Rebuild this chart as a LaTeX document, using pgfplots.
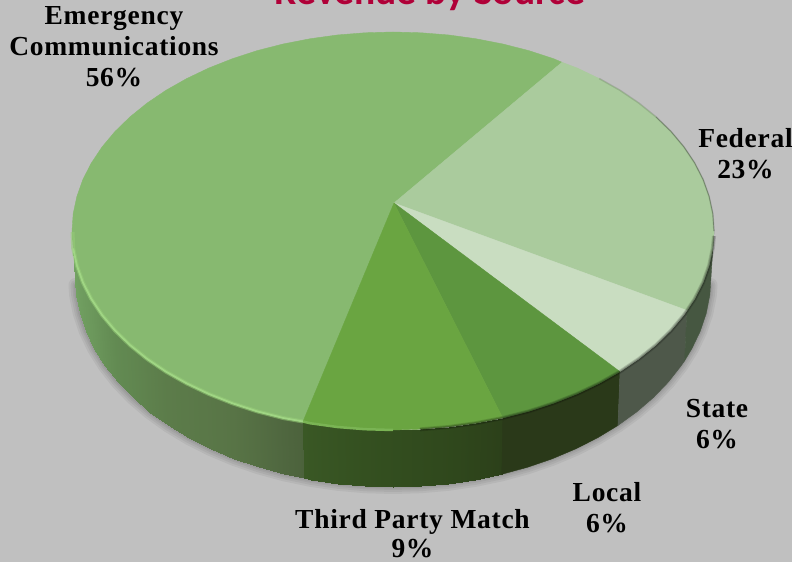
\documentclass[border=0pt]{standalone}
\usepackage{pgfplots}
\pgfplotsset{compat=1.18}
\usepackage{fontspec}
\setmainfont[LetterSpace=2.6]{Liberation Serif}
\newfontfamily\titlefont{Carlito}
\definecolor{bgc}{HTML}{C0C0C0}
\definecolor{cE}{HTML}{87B970}
\definecolor{cF}{HTML}{AACB9D}
\definecolor{cS}{HTML}{C9DDC1}
\definecolor{cL}{HTML}{5D963F}
\definecolor{cT}{HTML}{6AA541}
\definecolor{cTitle}{HTML}{B00038}
\definecolor{sL}{RGB}{42,57,25}
\definecolor{sS}{RGB}{78,88,74}
\definecolor{sF}{RGB}{70,87,65}
\newcommand\band[2]{\addplot[fill=#1,draw=#1,line width=0.4pt,forget plot] coordinates {#2} --cycle;}
\newcommand\lab[3]{\node[anchor=base,text=black,inner sep=0pt] at (axis cs:#1,#2) {\fontsize{27.5bp}{30bp}\selectfont\bfseries #3};}
\begin{document}
\begin{tikzpicture}[x=1bp,y=1bp]
\path[use as bounding box] (0,0) rectangle (792,562);
\clip (0,0) rectangle (792,562);
\fill[bgc] (0,0) rectangle (792,562);
\begin{axis}[at={(0,0)},anchor=south west,scale only axis,width=792bp,height=562bp,
  xmin=0,xmax=792,ymin=0,ymax=562,y dir=reverse,hide axis,clip=false,
  colormap={sidecol}{rgb255(0)=(116,166,100) rgb255(30)=(112,158,96) rgb255(60)=(98,138,82) rgb255(100)=(92,124,74) rgb255(150)=(88,116,70) rgb255(200)=(80,104,64) rgb255(225)=(76,98,60)
   rgb255(230)=(58,88,37) rgb255(300)=(52,80,32) rgb255(400)=(47,71,28) rgb255(450)=(44,64,26) rgb255(460)=(42,57,25) rgb255(600)=(42,57,25)},
  point meta min=0,point meta max=600]
% soft shadow along the lower outline
\pgfplotsinvokeforeach{14,10,6,3}{
\addplot[black,opacity=0.05,line width=#1bp,line join=round,line cap=round,forget plot] coordinates {(75.5,285)(76.2,295.3)(79.8,313.5)(85.8,331.3)(94.2,348.8)(104.8,365.7)(117.6,382)(132.5,397.5)(149.4,412)(168.1,425.5)(188.6,437.9)(210.6,449)(234,458.9)(258.6,467.3)(284.2,474.3)(310.7,479.8)(337.8,483.8)(365.3,486.2)(393,487)(420.7,486.2)(448.2,483.8)(475.3,479.8)(501.8,474.3)(527.4,467.3)(552,458.9)(575.4,449)(597.4,437.9)(617.9,425.5)(636.6,412)(653.5,397.5)(668.4,382)(681.2,365.7)(691.8,348.8)(700.2,331.3)(706.2,313.5)(709.8,295.3)(710.5,285)};
}
% sides of Emergency Communications and Third Party Match: shaded patches
\addplot[patch,patch type=rectangle,shader=interp,point meta=explicit,forget plot] coordinates {
(72,231)[0] (73.2,248.4)[15] (76.2,295.3)[15] (75,277)[0]
(73.2,248.4)[15] (76.9,265.6)[30] (79.8,313.5)[30] (76.2,295.3)[15]
(76.9,265.6)[30] (82.9,282.5)[35] (85.8,331.3)[35] (79.8,313.5)[30]
(82.9,282.5)[35] (91.4,299.1)[40] (94.2,348.8)[40] (85.8,331.3)[35]
(91.4,299.1)[40] (102.1,315.1)[50] (104.8,365.7)[50] (94.2,348.8)[40]
(102.1,315.1)[50] (115,330.5)[60] (117.6,382)[60] (104.8,365.7)[50]
(115,330.5)[60] (130,345.1)[70] (132.5,397.5)[70] (117.6,382)[60]
(130,345.1)[70] (147.1,358.9)[85] (149.4,412)[85] (132.5,397.5)[70]
(147.1,358.9)[85] (166,371.7)[100] (168.1,425.5)[100] (149.4,412)[85]
(166,371.7)[100] (186.7,383.4)[115] (188.6,437.9)[115] (168.1,425.5)[100]
(186.7,383.4)[115] (208.9,394)[130] (210.6,449)[130] (188.6,437.9)[115]
(208.9,394)[130] (232.5,403.3)[150] (234,458.9)[150] (210.6,449)[130]
(232.5,403.3)[150] (257.3,411.4)[175] (258.6,467.3)[175] (234,458.9)[150]
(257.3,411.4)[175] (283.2,418)[205] (284.2,474.3)[205] (258.6,467.3)[175]
(283.2,418)[205] (303,421.5)[225] (304,478)[225] (284.2,474.3)[205]
(303,421.5)[230] (309.9,423.2)[240] (310.7,479.8)[240] (304,478)[230]
(309.9,423.2)[240] (337.3,427)[270] (337.8,483.8)[270] (310.7,479.8)[240]
(337.3,427)[270] (365,429.2)[300] (365.3,486.2)[300] (337.8,483.8)[270]
(365,429.2)[300] (393,430)[330] (393,487)[330] (365.3,486.2)[300]
(393,430)[330] (421,429.2)[360] (420.7,486.2)[360] (393,487)[330]
(421,429.2)[360] (448.7,427)[390] (448.2,483.8)[390] (420.7,486.2)[360]
(448.7,427)[390] (476.1,423.2)[420] (475.3,479.8)[420] (448.2,483.8)[390]
(476.1,423.2)[420] (502.8,418)[450] (501.8,474.3)[450] (475.3,479.8)[420]
};
% side of Local
\band{sL}{(502.8,418)(528.7,411.4)(553.5,403.3)(577.1,394)(599.3,383.4)(620,371.7)(617.9,425.5)(597.4,437.9)(575.4,449)(552,458.9)(527.4,467.3)(501.8,474.3)}
% side of State
\band{sS}{(620,371.7)(638.9,358.9)(656,345.1)(671,330.5)(683.9,315.1)(687,310.4)(684.6,360.8)(681.2,365.7)(668.4,382)(653.5,397.5)(636.6,412)(617.9,425.5)}
% side of Federal
\band{sF}{(687,310.4)(694.6,299.1)(703.1,282.5)(709.1,265.6)(712.8,248.4)(714,231)(711,277)(709.8,295.3)(706.2,313.5)(700.2,331.3)(691.8,348.8)(684.6,360.8)}
% top faces
\band{cE}{(394,203)(562,62.3)(553.5,58.7)(528.7,50.6)(502.8,44)(476.1,38.8)(448.7,35)(421,32.8)(393,32)(365,32.8)(337.3,35)(309.9,38.8)(283.2,44)(257.3,50.6)(232.5,58.7)(208.9,68)(186.7,78.6)(166,90.3)(147.1,103.1)(130,116.9)(115,131.5)(102.1,146.9)(91.4,162.9)(82.9,179.5)(76.9,196.4)(73.2,213.6)(72,231)(73.2,248.4)(76.9,265.6)(82.9,282.5)(91.4,299.1)(102.1,315.1)(115,330.5)(130,345.1)(147.1,358.9)(166,371.7)(186.7,383.4)(208.9,394)(232.5,403.3)(257.3,411.4)(283.2,418)(303,421.5)}
\band{cF}{(394,203)(687,310.4)(694.6,299.1)(703.1,282.5)(709.1,265.6)(712.8,248.4)(714,231)(712.8,213.6)(709.1,196.4)(703.1,179.5)(694.6,162.9)(683.9,146.9)(671,131.5)(656,116.9)(638.9,103.1)(620,90.3)(599.3,78.6)(577.1,68)(562,62.3)}
\band{cS}{(394,203)(620,371.7)(638.9,358.9)(656,345.1)(671,330.5)(683.9,315.1)(687,310.4)}
\band{cL}{(394,203)(502.8,418)(528.7,411.4)(553.5,403.3)(577.1,394)(599.3,383.4)(620,371.7)}
\band{cT}{(394,203)(303,421.5)(309.9,423.2)(337.3,427)(365,429.2)(393,430)(421,429.2)(448.7,427)(476.1,423.2)(502.8,418)}
% bevel lines
\addplot[color=black,opacity=0.12,line width=1.6bp,forget plot] coordinates {(599.3,78.6)(620,90.3)(638.9,103.1)(656,116.9)(671,131.5)(683.9,146.9)(694.6,162.9)(703.1,179.5)(709.1,196.4)(712.8,213.6)(714,231)};
\addplot[color=black,opacity=0.25,line width=0.7bp,forget plot] coordinates {(656,116.9)(671,131.5)(683.9,146.9)(694.6,162.9)(703.1,179.5)(709.1,196.4)(712.8,213.6)(714,231)};
\addplot[color={rgb,255:red,150;green,205;blue,120},opacity=0.55,line width=4bp,forget plot] coordinates {(72.5,232)(73.2,248.4)(76.9,265.6)(82.9,282.5)(91.4,299.1)(102.1,315.1)(115,330.5)(130,345.1)(147.1,358.9)(166,371.7)(186.7,383.4)(208.9,394)(232.5,403.3)(257.3,411.4)(283.2,418)(303,421.5)};
\addplot[color={rgb,255:red,160;green,214;blue,132},line width=1.8bp,forget plot] coordinates {(73.2,248.4)(76.9,265.6)(82.9,282.5)(91.4,299.1)(102.1,315.1)(115,330.5)(130,345.1)(147.1,358.9)(166,371.7)(186.7,383.4)(208.9,394)(232.5,403.3)(257.3,411.4)(283.2,418)(303,421.5)};
\addplot[color={rgb,255:red,122;green,180;blue,84},line width=2.5bp,forget plot] coordinates {(303,421.5)(309.9,423.2)(337.3,427)(365,429.2)(393,430)};
\pgfplotsinvokeforeach{4,2.4,1.2}{
\addplot[color=black,opacity=0.14,line width=#1bp,forget plot] coordinates {(420,429.4)(448.7,427)(476.1,423.2)(502.8,418)(528.7,411.4)(553.5,403.3)(577.1,394)(599.3,383.4)(620,371.7)(638.9,358.9)(656,345.1)(671,330.5)(683.9,315.1)(694.6,299.1)(703.1,282.5)(709.1,265.6)(712.8,248.4)(714,236)};
}
% labels
\lab{114}{25}{Emergency}
\lab{114}{56}{Communications}
\lab{114}{87}{56\%}
\lab{745.5}{148}{Federal}
\lab{745.5}{179}{23\%}
\lab{717}{418}{State}
\lab{717}{449}{6\%}
\lab{607}{501}{Local}
\lab{607}{532}{6\%}
\lab{412.5}{528}{Third Party Match}
\lab{412.5}{557.5}{9\%}
\node[anchor=base,inner sep=0pt,text=cTitle] at (axis cs:430,5) {\titlefont\fontsize{39.5bp}{40bp}\selectfont\bfseries Revenue by Source};
\end{axis}
\end{tikzpicture}
\end{document}
